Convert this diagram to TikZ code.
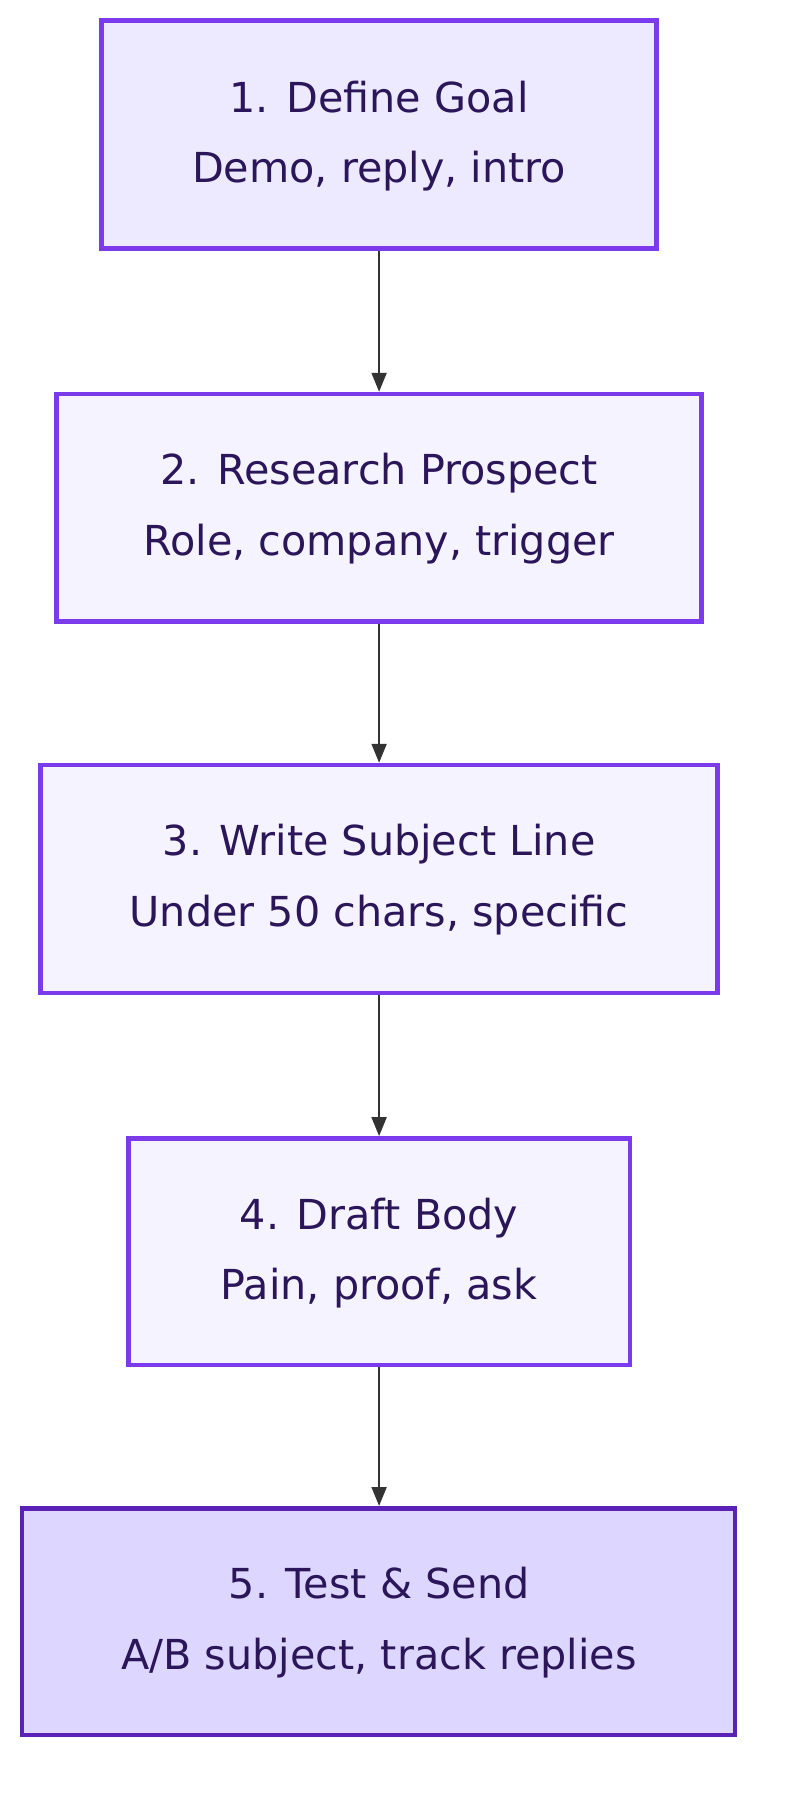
\documentclass[tikz,border=0pt]{standalone}
\usepackage{fontspec}
\setmainfont{DejaVu Sans}
\usetikzlibrary{arrows.meta}
\definecolor{tx}{HTML}{2A1659}
\definecolor{bd}{HTML}{7C3AED}
\definecolor{bdd}{HTML}{5B21B6}
\definecolor{fa}{HTML}{EDE9FE}
\definecolor{fb}{HTML}{F5F3FF}
\definecolor{fc}{HTML}{DDD6FE}
\begin{document}
\begin{tikzpicture}[x=0.03cm,y=-0.03cm,
 box/.style={draw=bd,line width=3.4pt,fill=fb},
 lbl/.style={text=tx,font=\fontsize{30.5}{52}\selectfont,align=center},
 arr/.style={draw=black!80,line width=1.6pt,-{Triangle[length=14pt,width=11pt]}}]
\useasboundingbox (0,0) rectangle (680,1573);
\path[box,fill=fa] (88,18) rectangle (568,215);
\path[box] (49,341) rectangle (607,538);
\path[box] (35,662) rectangle (621,859);
\path[box] (111,985) rectangle (545,1181);
\path[box,fill=fc,draw=bdd] (19,1305) rectangle (636,1501);
\node[lbl] (a) at (328,118) {1. Define Goal\\Demo, reply, intro};
\node[lbl] (b) at (328,440) {2. Research Prospect\\Role, company, trigger};
\node[lbl] (c) at (328,761) {3. Write Subject Line\\Under 50 chars, specific};
\node[lbl] (d) at (328,1084) {4. Draft Body\\Pain, proof, ask};
\node[lbl] (e) at (328,1404) {5. Test \& Send\\A/B subject, track replies};
\coordinate (a1) at (328,217); \coordinate (b0) at (328,339);
\coordinate (b1) at (328,540); \coordinate (c0) at (328,660);
\coordinate (c1) at (328,861); \coordinate (d0) at (328,983);
\coordinate (d1) at (328,1183); \coordinate (e0) at (328,1303);
\draw[arr] (a1) -- (b0);
\draw[arr] (b1) -- (c0);
\draw[arr] (c1) -- (d0);
\draw[arr] (d1) -- (e0);
\end{tikzpicture}
\end{document}
